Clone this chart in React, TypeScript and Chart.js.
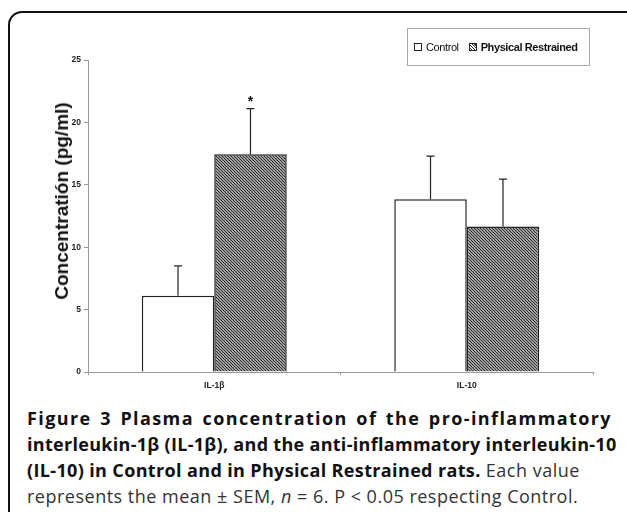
import React, { useEffect, useRef } from "react";
import { Chart, registerables } from "chart.js";

Chart.register(...registerables);

const categories = ["IL-1β", "IL-10"];
const seriesNames = ["Control", "Physical Restrained"];
const controlValues = [6.1, 13.85];
const restrainedValues = [17.45, 11.65];
const controlSem = [2.4, 3.45];
const restrainedSem = [3.65, 3.8];
const controlMarks = ["", ""];
const restrainedMarks = ["*", ""];
const yTicks = [0, 5, 10, 15, 20, 25];

function makeHatch(): CanvasPattern | string {
  const c = document.createElement("canvas");
  c.width = 3;
  c.height = 3;
  const ctx = c.getContext("2d");
  if (!ctx) return "#777";
  ctx.fillStyle = "#ffffff";
  ctx.fillRect(0, 0, 3, 3);
  ctx.strokeStyle = "#2a2a2a";
  ctx.lineWidth = 1.25;
  ctx.beginPath();
  ctx.moveTo(-1, -1);
  ctx.lineTo(4, 4);
  ctx.moveTo(-1, 2);
  ctx.lineTo(1, 4);
  ctx.moveTo(2, -1);
  ctx.lineTo(4, 1);
  ctx.stroke();
  const p = ctx.createPattern(c, "repeat");
  return p || "#777";
}

const errorBarPlugin = {
  id: "errorBars",
  afterDatasetsDraw(chart: any) {
    const ctx = chart.ctx;
    const yScale = chart.scales.y;
    const sems = [controlSem, restrainedSem];
    const marks = [controlMarks, restrainedMarks];
    ctx.save();
    chart.data.datasets.forEach((ds: any, di: number) => {
      const meta = chart.getDatasetMeta(di);
      meta.data.forEach((bar: any, i: number) => {
        const v = ds.data[i] as number;
        const top = yScale.getPixelForValue(v + sems[di][i]);
        ctx.strokeStyle = "#222";
        ctx.lineWidth = 1.2;
        ctx.beginPath();
        ctx.moveTo(bar.x, bar.y);
        ctx.lineTo(bar.x, top);
        ctx.moveTo(bar.x - 4, top);
        ctx.lineTo(bar.x + 4, top);
        ctx.stroke();
        const m = marks[di][i];
        if (m) {
          ctx.fillStyle = "#111";
          ctx.font = "bold 14px 'Liberation Sans'";
          ctx.textAlign = "center";
          ctx.textBaseline = "alphabetic";
          ctx.fillText(m, bar.x, top - 3);
        }
      });
    });
    ctx.restore();
  },
};

export default function App() {
  const ref = useRef<HTMLCanvasElement>(null);

  useEffect(() => {
    if (!ref.current) return;
    const hatch = makeHatch();
    const chart = new Chart(ref.current, {
      type: "bar",
      data: {
        labels: categories,
        datasets: [
          {
            label: seriesNames[0],
            data: controlValues,
            backgroundColor: "#ffffff",
            borderColor: "#222",
            borderWidth: 1.5,
            categoryPercentage: 0.574,
            barPercentage: 1.0,
          },
          {
            label: seriesNames[1],
            data: restrainedValues,
            backgroundColor: hatch as any,
            borderColor: "#222",
            borderWidth: 1.5,
            categoryPercentage: 0.574,
            barPercentage: 1.0,
          },
        ],
      },
      options: {
        responsive: false,
        animation: false,
        layout: { padding: { top: 60, right: 34, left: 0, bottom: 0 } },
        plugins: { legend: { display: false }, tooltip: { enabled: false } },
        scales: {
          x: {
            grid: {
              display: true,
              drawOnChartArea: false,
              drawTicks: true,
              tickLength: 3,
              color: "#999",
              offset: true,
            },
            border: { color: "#999", width: 1 },
            ticks: {
              font: { family: "'Liberation Sans Narrow', 'Liberation Sans'", size: 8.5, weight: "bold" },
              color: "#222",
              padding: 6,
            },
            afterFit: (s: any) => {
              s.height = 28;
            },
          },
          y: {
            min: 0,
            max: 25,
            afterBuildTicks: (s: any) => {
              s.ticks = yTicks.map((v) => ({ value: v }));
            },
            grid: {
              display: true,
              drawOnChartArea: false,
              drawTicks: true,
              tickLength: 4,
              color: "#999",
            },
            border: { color: "#999", width: 1 },
            ticks: {
              font: { family: "'Liberation Sans Narrow', 'Liberation Sans'", size: 8.5, weight: "bold" },
              color: "#222",
              padding: 3,
            },
            afterFit: (s: any) => {
              s.width = 88;
            },
          },
        },
      },
      plugins: [errorBarPlugin],
    });
    return () => chart.destroy();
  }, []);

  const legendText: React.CSSProperties = {
    fontFamily: "'Liberation Sans', Arial, sans-serif",
    fontSize: 11,
    color: "#111",
    letterSpacing: -0.4,
  };
  const swatch: React.CSSProperties = {
    display: "inline-block",
    width: 6,
    height: 6,
    border: "1px solid #222",
    marginRight: 4,
  };
  const capBase: React.CSSProperties = {
    fontFamily: "'Open Sans', sans-serif",
    fontSize: 18,
    lineHeight: "26px",
    color: "#333",
    whiteSpace: "nowrap",
  };
  const bold: React.CSSProperties = { color: "#111", fontWeight: 700 };

  return (
    <div
      style={{
        position: "absolute",
        left: 0,
        top: 0,
        width: 627,
        height: 512,
        overflow: "hidden",
        background: "#fff",
      }}
    >
      <div
        style={{
          position: "absolute",
          left: 8,
          top: 11,
          width: 700,
          height: 600,
          border: "2px solid #111",
          borderRadius: 14,
          boxSizing: "border-box",
        }}
      />
      <canvas
        ref={ref}
        width={627}
        height={400}
        style={{ position: "absolute", left: 0, top: 0, width: 627, height: 400 }}
      />
      <div
        style={{
          position: "absolute",
          left: 62,
          top: 201,
          transform: "translate(-50%, -50%) rotate(-90deg)",
          fontFamily: "'Liberation Sans', Arial, sans-serif",
          fontWeight: "bold",
          fontSize: 19,
          color: "#111",
          whiteSpace: "nowrap",
        }}
      >
        Concentratión (pg/ml)
      </div>
      <div
        style={{
          position: "absolute",
          left: 407,
          top: 28,
          width: 183,
          height: 38,
          border: "1px solid #aaa",
          boxSizing: "border-box",
          display: "flex",
          alignItems: "center",
          paddingLeft: 6,
        }}
      >
        <span style={{ ...swatch, background: "#fff" }} />
        <span style={{ ...legendText, marginRight: 10 }}>{seriesNames[0]}</span>
        <span
          style={{
            ...swatch,
            background:
              "repeating-linear-gradient(45deg, #fff 0px, #fff 1px, #333 1px, #333 2px)",
          }}
        />
        <span style={{ ...legendText, fontWeight: "bold" }}>{seriesNames[1]}</span>
      </div>
      <div style={{ position: "absolute", left: 27, top: 405, width: 585 }}>
        <div
          style={{
            ...capBase,
            ...bold,
            letterSpacing: 1.4,
            textAlign: "justify",
            textAlignLast: "justify" as any,
          }}
        >
          Figure 3 Plasma concentration of the pro-inflammatory
        </div>
        <div
          style={{
            ...capBase,
            ...bold,
            letterSpacing: 0.3,
            textAlign: "justify",
            textAlignLast: "justify" as any,
          }}
        >
          interleukin-1β (IL-1β), and the anti-inflammatory interleukin-10
        </div>
        <div style={capBase}>
          <span style={{ ...bold, letterSpacing: 0.36 }}>
            (IL-10) in Control and in Physical Restrained rats.
          </span>
          <span style={{ letterSpacing: 0.5 }}> Each value</span>
        </div>
        <div style={{ ...capBase, letterSpacing: 0.5 }}>
          represents the mean ± SEM, <i>n</i> = 6. P &lt; 0.05 respecting Control.
        </div>
      </div>
    </div>
  );
}
